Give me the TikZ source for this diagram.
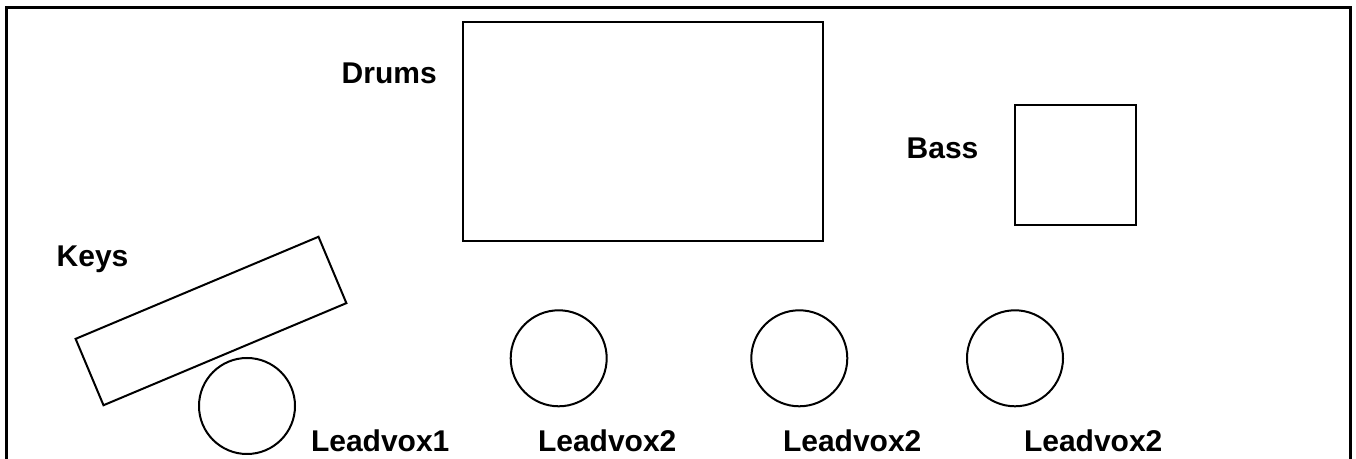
\documentclass[tikz,border=0pt]{standalone}
\usepackage{fontspec}
\setmainfont{Liberation Sans}
\begin{document}
\begin{tikzpicture}[x=0.5pt, y=-0.5pt,
    every node/.style={inner sep=0pt, outer sep=0pt},
    box/.style={draw, line width=1pt},
    mic/.style={draw, circle, line width=1pt, minimum size=48pt},
    lbl/.style={anchor=base west, font=\fontsize{15pt}{18pt}\selectfont\bfseries}]
    \useasboundingbox (0,0) rectangle (1356,459);
    % stage outline, open at the front
    \draw[line width=1.5pt]
        (6.5,462) -- (6.5,8) -- (1350.5,8) -- (1350.5,462);
    % back line
    \node[box, minimum width=180pt, minimum height=109.5pt] (drums) at (643,131.5) {};
    \node[box, minimum width=60.25pt, minimum height=60.25pt] (bass) at (1075.25,165.25) {};
    \node[box, minimum width=131.75pt, minimum height=36pt, rotate=22.8] (keys) at (211,321) {};
    % vocal mics
    \node[mic] (vox1) at (247,406) {};
    \node[mic] (vox2) at (558.7,358.3) {};
    \node[mic] (vox3) at (799.3,358.3) {};
    \node[mic] (vox4) at (1015,358.3) {};
    % labels
    \node[lbl] (drumslbl) at (341.7,83.3) {Drums};
    \node[lbl] (basslbl) at (906.7,158.3) {Bass};
    \node[lbl] (keyslbl) at (56.7,266.7) {Keys};
    \node[lbl] (vox1lbl) at (311,451.5) {Leadvox1};
    \node[lbl] (vox2lbl) at (538,451.5) {Leadvox2};
    \node[lbl] (vox3lbl) at (783,451.5) {Leadvox2};
    \node[lbl] (vox4lbl) at (1024,451.5) {Leadvox2};
\end{tikzpicture}
\end{document}
